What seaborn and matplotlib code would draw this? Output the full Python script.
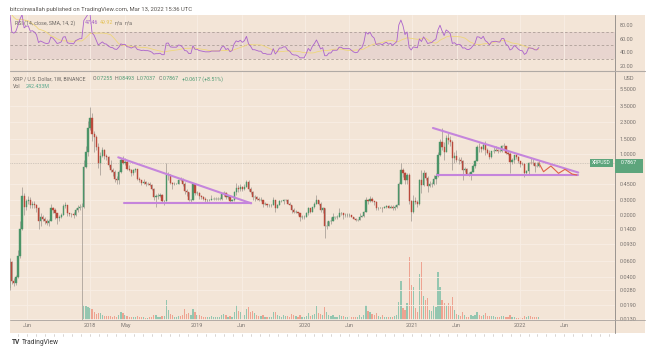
import numpy as np
import pandas as pd
import matplotlib
matplotlib.use("Agg")
import matplotlib.pyplot as plt
import matplotlib.dates as mdates
from matplotlib.lines import Line2D
from matplotlib.patches import Rectangle
from matplotlib.transforms import blended_transform_factory
from matplotlib.ticker import NullLocator
import seaborn as sns

# ---------------- data (weekly XRP/USD candles) ----------------
FIRST_WEEK = "2017-03-06"
FIRST_OPEN = 0.0068

CLOSE_2017 = [0.0072, 0.0078, 0.0095, 0.030, 0.058, 0.036, 0.034, 0.040,
              0.068, 0.140, 0.330, 0.250, 0.290, 0.300, 0.260, 0.270, 0.260,
              0.240, 0.170, 0.190, 0.180, 0.170, 0.165, 0.170, 0.240, 0.230,
              0.210, 0.185, 0.190, 0.200, 0.255, 0.260, 0.210, 0.205, 0.205,
              0.200, 0.230, 0.240, 0.250, 0.250, 0.720, 1.050, 2.000]
HIGH_2017 = [0.0076, 0.0086, 0.0112, 0.033, 0.066, 0.060, 0.039, 0.042,
             0.080, 0.170, 0.420, 0.360, 0.310, 0.330, 0.320, 0.290, 0.290,
             0.270, 0.250, 0.210, 0.200, 0.190, 0.180, 0.180, 0.270, 0.250,
             0.240, 0.215, 0.200, 0.215, 0.270, 0.280, 0.260, 0.215, 0.215,
             0.220, 0.240, 0.260, 0.270, 0.275, 0.850, 1.250, 2.400]
LOW_2017 = [0.0064, 0.0069, 0.0074, 0.0092, 0.028, 0.033, 0.031, 0.032,
            0.039, 0.066, 0.135, 0.200, 0.230, 0.270, 0.240, 0.240, 0.240,
            0.220, 0.140, 0.150, 0.170, 0.160, 0.155, 0.150, 0.170, 0.210,
            0.180, 0.160, 0.170, 0.185, 0.200, 0.240, 0.195, 0.195, 0.190,
            0.185, 0.195, 0.220, 0.230, 0.0125, 0.240, 0.700, 0.950]

CLOSE_2018 = [2.60, 1.70, 1.55, 1.20, 0.80, 0.95, 1.10, 0.95, 0.92,
              0.75, 0.66, 0.63, 0.52, 0.50, 0.63, 0.85, 0.80, 0.82,
              0.68, 0.66, 0.60, 0.65, 0.67, 0.52, 0.50, 0.47,
              0.48, 0.46, 0.46, 0.44, 0.40, 0.32, 0.33, 0.33, 0.34,
              0.29, 0.29, 0.57, 0.58, 0.47, 0.46, 0.46, 0.46, 0.51,
              0.50, 0.46, 0.38, 0.37, 0.30, 0.30, 0.45, 0.36, 0.36]
HIGH_2018 = [3.40, 2.90, 1.85, 1.65, 1.35, 1.05, 1.20, 1.15, 1.00,
             0.95, 0.85, 0.70, 0.66, 0.56, 0.65, 0.90, 0.96, 0.90,
             0.86, 0.74, 0.68, 0.68, 0.70, 0.68, 0.55, 0.51,
             0.52, 0.49, 0.48, 0.48, 0.45, 0.41, 0.35, 0.36, 0.36,
             0.35, 0.30, 0.78, 0.62, 0.59, 0.48, 0.48, 0.47, 0.52,
             0.55, 0.53, 0.48, 0.40, 0.37, 0.31, 0.46, 0.45, 0.38]
LOW_2018 = [1.90, 1.40, 1.05, 1.10, 0.70, 0.57, 0.92, 0.88, 0.85,
            0.72, 0.63, 0.56, 0.48, 0.45, 0.46, 0.61, 0.76, 0.74,
            0.65, 0.64, 0.56, 0.58, 0.63, 0.50, 0.48, 0.44,
            0.45, 0.43, 0.44, 0.43, 0.39, 0.30, 0.25, 0.31, 0.32,
            0.28, 0.26, 0.29, 0.50, 0.45, 0.40, 0.44, 0.45, 0.45,
            0.49, 0.43, 0.35, 0.33, 0.29, 0.28, 0.30, 0.34, 0.34]

CLOSE_2019 = [0.33, 0.32, 0.31, 0.30, 0.30, 0.30, 0.31, 0.31,
              0.31, 0.31, 0.31, 0.35, 0.36, 0.32, 0.33, 0.29, 0.30,
              0.37, 0.41, 0.40, 0.42, 0.40, 0.42, 0.48, 0.40,
              0.37, 0.32, 0.32, 0.31, 0.30, 0.30, 0.27, 0.27, 0.26,
              0.26, 0.26, 0.30, 0.24, 0.26, 0.29, 0.29, 0.30, 0.30,
              0.27, 0.26, 0.23, 0.22, 0.22, 0.21, 0.19, 0.19, 0.19]
HIGH_2019 = [0.37, 0.34, 0.33, 0.32, 0.31, 0.31, 0.34, 0.32,
             0.32, 0.32, 0.32, 0.36, 0.38, 0.37, 0.34, 0.33, 0.31,
             0.38, 0.47, 0.44, 0.45, 0.43, 0.45, 0.50, 0.50,
             0.42, 0.38, 0.34, 0.33, 0.32, 0.32, 0.30, 0.28, 0.27,
             0.27, 0.27, 0.32, 0.30, 0.27, 0.30, 0.30, 0.31, 0.31,
             0.31, 0.28, 0.26, 0.24, 0.23, 0.22, 0.21, 0.20, 0.20]
LOW_2019 = [0.31, 0.31, 0.30, 0.28, 0.28, 0.29, 0.30, 0.30,
            0.30, 0.30, 0.30, 0.30, 0.33, 0.31, 0.31, 0.28, 0.29,
            0.29, 0.34, 0.37, 0.38, 0.38, 0.39, 0.42, 0.38,
            0.35, 0.30, 0.29, 0.30, 0.29, 0.29, 0.25, 0.26, 0.25,
            0.25, 0.25, 0.26, 0.22, 0.24, 0.26, 0.28, 0.27, 0.29,
            0.27, 0.26, 0.21, 0.21, 0.21, 0.20, 0.17, 0.18, 0.18]

CLOSE_2020 = [0.21, 0.24, 0.22, 0.25, 0.27, 0.30, 0.27, 0.23,
              0.24, 0.15, 0.15, 0.17, 0.17, 0.19, 0.19, 0.19, 0.21,
              0.21, 0.20, 0.20, 0.20, 0.20, 0.19, 0.18, 0.175, 0.177,
              0.19, 0.195, 0.22, 0.30, 0.29, 0.31, 0.29, 0.28, 0.24,
              0.245, 0.245, 0.24, 0.25, 0.255, 0.245, 0.25, 0.24,
              0.25, 0.26, 0.46, 0.65, 0.60, 0.50, 0.57, 0.29, 0.22]
HIGH_2020 = [0.22, 0.25, 0.24, 0.25, 0.28, 0.34, 0.30, 0.28,
             0.25, 0.24, 0.17, 0.17, 0.19, 0.21, 0.19, 0.20, 0.24,
             0.22, 0.21, 0.21, 0.21, 0.21, 0.20, 0.19, 0.185, 0.18,
             0.21, 0.20, 0.225, 0.32, 0.31, 0.33, 0.32, 0.29, 0.29,
             0.25, 0.25, 0.25, 0.255, 0.26, 0.26, 0.26, 0.26,
             0.26, 0.27, 0.48, 0.78, 0.69, 0.62, 0.60, 0.60, 0.30]
LOW_2020 = [0.19, 0.20, 0.21, 0.22, 0.24, 0.27, 0.26, 0.22,
            0.21, 0.11, 0.14, 0.15, 0.16, 0.17, 0.18, 0.18, 0.19,
            0.20, 0.18, 0.19, 0.19, 0.19, 0.19, 0.18, 0.17, 0.17,
            0.175, 0.19, 0.19, 0.22, 0.27, 0.28, 0.28, 0.26, 0.23,
            0.23, 0.24, 0.22, 0.24, 0.24, 0.24, 0.24, 0.23,
            0.23, 0.24, 0.26, 0.45, 0.55, 0.46, 0.45, 0.27, 0.17]

CLOSE_2021 = [0.29, 0.28, 0.27, 0.50, 0.44, 0.60, 0.53, 0.43,
              0.45, 0.46, 0.52, 0.56, 0.98, 1.38, 1.21, 1.05, 1.52,
              1.46, 1.37, 0.90, 0.95, 0.85, 0.86, 0.83, 0.66, 0.67,
              0.59, 0.58, 0.63, 0.73, 0.84, 1.20, 1.19, 1.13, 1.27,
              1.10, 1.04, 0.92, 1.07, 1.09, 1.10, 1.08, 1.07,
              1.23, 1.23, 1.04, 0.99, 0.81, 0.85, 0.97, 0.92, 0.83]
HIGH_2021 = [0.34, 0.32, 0.30, 0.52, 0.65, 0.65, 0.63, 0.56,
             0.49, 0.48, 0.58, 0.60, 1.05, 1.50, 1.96, 1.38, 1.65,
             1.75, 1.62, 1.45, 1.06, 1.10, 0.92, 0.92, 0.85, 0.72,
             0.70, 0.63, 0.64, 0.77, 0.86, 1.27, 1.33, 1.25, 1.32,
             1.41, 1.18, 1.11, 1.08, 1.20, 1.23, 1.15, 1.15,
             1.26, 1.35, 1.25, 1.10, 1.05, 0.89, 0.98, 1.00, 0.96]
LOW_2021 = [0.21, 0.27, 0.25, 0.26, 0.36, 0.43, 0.50, 0.37,
            0.42, 0.42, 0.44, 0.45, 0.55, 0.96, 1.10, 0.86, 1.05,
            1.30, 1.25, 0.65, 0.80, 0.82, 0.76, 0.79, 0.51, 0.62,
            0.58, 0.56, 0.51, 0.62, 0.70, 0.83, 1.06, 1.05, 1.10,
            0.98, 1.00, 0.87, 0.89, 1.02, 1.07, 1.04, 1.05,
            1.05, 1.15, 1.00, 0.97, 0.60, 0.76, 0.78, 0.88, 0.80]

CLOSE_2022 = [0.77, 0.76, 0.60, 0.64, 0.80, 0.79, 0.78, 0.73, 0.7255, 0.7867]
HIGH_2022 = [0.84, 0.82, 0.78, 0.65, 0.81, 0.91, 0.88, 0.81, 0.81, 0.8493]
LOW_2022 = [0.72, 0.74, 0.55, 0.57, 0.59, 0.77, 0.74, 0.62, 0.71, 0.7037]

# weekly volume (millions)
VOL_2017 = [6, 6, 6, 6, 6, 6, 6, 6, 6, 6, 6, 6, 6, 6, 6, 6, 6, 6, 6, 6,
            6, 6, 6, 6, 6, 6, 6, 6, 6, 6, 6, 6, 6, 6, 6, 6, 6, 6, 6, 6,
            1200, 1120, 1040]
VOL_2018 = [960, 880, 640, 480, 560, 560, 400, 320, 320, 320, 320, 240, 320,
            240, 400, 640, 560, 400, 320, 240, 240, 240, 240, 320, 240, 240,
            240, 160, 160, 240, 240, 400, 400, 240, 240, 320, 320, 1600, 800,
            480, 400, 240, 240, 320, 320, 400, 880, 480, 560, 400, 880, 640, 400]
VOL_2019 = [400, 320, 240, 240, 240, 240, 320, 240, 240, 240, 240, 400,
            480, 400, 240, 320, 240, 640, 1200, 720, 640, 400, 400, 880, 1040,
            640, 720, 560, 400, 320, 320, 400, 240, 240, 240, 240, 640, 640, 400,
            320, 240, 400, 320, 320, 240, 480, 400, 320, 240, 400, 240, 240]
VOL_2020 = [320, 560, 320, 400, 480, 1120, 560, 480, 400, 1040, 640, 400, 320,
            400, 240, 240, 400, 320, 320, 240, 240, 320, 240, 240, 240, 240,
            400, 240, 400, 1200, 720, 640, 480, 400, 560, 320, 240, 400, 240,
            240, 240, 240, 240, 320, 400, 1440, 3120, 960, 800, 1360, 4960, 2800]
VOL_2021 = [2640, 960, 640, 3600, 4560, 1920, 1600, 1760, 800, 720, 1200, 1040, 3760,
            2640, 1600, 1360, 1200, 1360, 1120, 1840, 800, 480, 400, 320, 640, 400,
            240, 240, 400, 320, 400, 640, 400, 320, 400, 560, 320, 320, 320,
            320, 240, 240, 240, 320, 320, 240, 240, 400, 240, 240, 160, 160]
VOL_2022 = [240, 160, 320, 240, 320, 320, 240, 240, 240, 242.433]

PRICE_TICKS = [5.5, 3.5, 2.3, 1.5, 1.0, 0.45, 0.3, 0.2, 0.14, 0.093,
               0.06, 0.04, 0.028, 0.019, 0.013]
RSI_TICKS = [80, 60, 40, 20]
XTICK_DATES = ["2017-06-01", "2018-01-01", "2018-05-01", "2019-01-01", "2019-06-01",
               "2020-01-01", "2020-06-01", "2021-01-01", "2021-06-01", "2022-01-01",
               "2022-06-01"]
XTICK_LABELS = ["Jun", "2018", "May", "2019", "Jun", "2020", "Jun", "2021", "Jun",
                "2022", "Jun"]

# drawn trend lines (date, price)
TRI1_UP_D = ["2018-04-07", "2019-07-03"]; TRI1_UP_P = [0.917, 0.274]
TRI1_LO_D = ["2018-04-26", "2019-07-03"]; TRI1_LO_P = [0.278, 0.278]
TRI2_UP_D = ["2021-03-12", "2022-07-19"]; TRI2_UP_P = [1.98, 0.615]
TRI2_LO_D = ["2021-03-26", "2022-07-19"]; TRI2_LO_P = [0.572, 0.572]
WAVE_D = ["2022-03-07", "2022-03-23", "2022-04-17", "2022-05-13", "2022-06-04",
          "2022-06-28", "2022-07-14"]
WAVE_P = [0.79, 0.628, 0.73, 0.602, 0.669, 0.591, 0.576]

# ---------------- assemble ----------------
close = np.array(CLOSE_2017 + CLOSE_2018 + CLOSE_2019 + CLOSE_2020 + CLOSE_2021 + CLOSE_2022)
high = np.array(HIGH_2017 + HIGH_2018 + HIGH_2019 + HIGH_2020 + HIGH_2021 + HIGH_2022)
low = np.array(LOW_2017 + LOW_2018 + LOW_2019 + LOW_2020 + LOW_2021 + LOW_2022)
volume = np.array(VOL_2017 + VOL_2018 + VOL_2019 + VOL_2020 + VOL_2021 + VOL_2022, dtype=float)
open_ = np.concatenate([[FIRST_OPEN], close[:-1]])
dates = pd.date_range(FIRST_WEEK, periods=len(close), freq="7D")

# RSI(14) with SMA(14) signal, as named in the chart
s = pd.Series(close)
delta = s.diff()
ag = delta.clip(lower=0).ewm(alpha=1 / 14, adjust=False).mean()
al = (-delta).clip(lower=0).ewm(alpha=1 / 14, adjust=False).mean()
rsi = 100 - 100 / (1 + ag / al)
rsi = rsi.fillna(100)
rsi_ma = rsi.rolling(14, min_periods=1).mean()
rsi_df = pd.DataFrame({"date": dates, "rsi": rsi.values, "ma": rsi_ma.values})

# ---------------- styling ----------------
W, H = 664, 347
def fx(p): return p / W
def fy(p): return 1 - p / H

sns.set_theme(style="white")
plt.rcParams["font.family"] = ["Roboto", "DejaVu Sans"]

BG = "#f3e5d7"
GRID = "#f8eee5"
GREEN = "#4b9468"
RED = "#b9493b"
WICK = "#9d958e"
VUP = "#94c6b0"
VDN = "#eea391"
PURPLE = "#c585dc"
AXC = "#7a7470"
LINEC = "#9a948f"
FS = 4.0

fig = plt.figure(figsize=(W / 100, H / 100), dpi=100, facecolor="white")
fig.add_artist(Rectangle((fx(10), fy(333)), fx(645) - fx(10), fy(15) - fy(333),
                         transform=fig.transFigure, facecolor=BG, edgecolor="none", zorder=-5))

L, R = 10, 615
axr = fig.add_axes([fx(L), fy(70), fx(R) - fx(L), fy(15) - fy(70)])
axv = fig.add_axes([fx(L), fy(320), fx(R) - fx(L), fy(71) - fy(320)], sharex=axr)
ax = fig.add_axes([fx(L), fy(320), fx(R) - fx(L), fy(71) - fy(320)], sharex=axr)
for a in (axr, axv, ax):
    a.patch.set_visible(False)
    for sp in a.spines.values():
        sp.set_visible(False)
axr.set_zorder(1); axv.set_zorder(1); ax.set_zorder(2)

# ---- candles ----
up = close >= open_
ccol = np.where(up, GREEN, RED)
ax.set_yscale("log")
ax.vlines(dates, low, high, colors=WICK, linewidth=0.5, zorder=3)
ax.bar(dates, np.abs(close - open_), bottom=np.minimum(open_, close), width=4.2,
       color=ccol, edgecolor=ccol, linewidth=0.3, zorder=4)

# trend lines and projection
for d, p in ((TRI1_UP_D, TRI1_UP_P), (TRI1_LO_D, TRI1_LO_P),
             (TRI2_UP_D, TRI2_UP_P), (TRI2_LO_D, TRI2_LO_P)):
    ax.plot(pd.to_datetime(d), p, color=PURPLE, lw=1.5, solid_capstyle="round", zorder=5)
ax.plot(pd.to_datetime(WAVE_D), WAVE_P, color="#e0604a", lw=0.8, zorder=5)
ax.axhline(close[-1], color="#b3aca5", lw=0.5, ls=(0, (1, 1.5)), zorder=2)

ax.set_ylim(0.0128, 8.84)
ax.set_xlim(pd.Timestamp("2017-04-04"), pd.Timestamp("2022-11-21"))
ax.yaxis.tick_right()
ax.set_yticks(PRICE_TICKS)
ax.set_yticklabels([f"{v:.4f}" for v in PRICE_TICKS])
ax.yaxis.set_minor_locator(NullLocator())
ax.tick_params(axis="y", length=0, pad=3.5, labelsize=FS, labelcolor=AXC)
ax.set_xticks(pd.to_datetime(XTICK_DATES))
ax.set_xticklabels(XTICK_LABELS)
ax.tick_params(axis="x", length=0, pad=2.5, labelsize=FS, labelcolor=AXC)
ax.grid(True, color=GRID, lw=0.6)
ax.set_axisbelow(True)

# ---- volume ----
vcol = np.where(up, VUP, VDN)
axv.bar(dates, volume, width=4.2, color=vcol, linewidth=0, zorder=2)
axv.set_ylim(0, volume.max() / 0.252)
axv.set_yticks([])
axv.tick_params(labelbottom=False, bottom=False, left=False)
axv.grid(False)

# ---- RSI ----
axr.set_ylim(14.1, 94.6)
axr.axhspan(30, 70, color="#e8d5cf", lw=0, zorder=0)
for lvl in (70, 50, 30):
    axr.axhline(lvl, color="#ad9f98", lw=0.6, ls=(0, (3, 2.5)), zorder=1)
sns.lineplot(data=rsi_df, x="date", y="ma", ax=axr, color="#efd77a", linewidth=0.6, zorder=3)
sns.lineplot(data=rsi_df, x="date", y="rsi", ax=axr, color="#ab62cc", linewidth=0.6, zorder=4)
axr.set_xlabel(""); axr.set_ylabel("")
axr.yaxis.tick_right()
axr.set_yticks(RSI_TICKS)
axr.set_yticklabels([f"{v:.2f}" for v in RSI_TICKS])
axr.tick_params(axis="y", length=0, pad=3.5, labelsize=FS, labelcolor=AXC)
axr.tick_params(axis="x", labelbottom=False, length=0)
axr.grid(True, axis="x", color=GRID, lw=0.6)
axr.grid(False, axis="y")

# ---- frame lines ----
def fline(x0, y0, x1, y1, color=LINEC, lw=0.7):
    fig.add_artist(Line2D([fx(x0), fx(x1)], [fy(y0), fy(y1)], transform=fig.transFigure,
                          color=color, lw=lw, zorder=6))
fline(615, 15, 615, 333)
fline(10, 70.5, 645, 70.5, color="#b0aaa5", lw=0.8)
fline(10, 320, 645, 320, color="#a8a29d", lw=0.6)

trans = blended_transform_factory(ax.transData, fig.transFigure)
for m in pd.date_range("2017-05-01", "2022-11-01", freq="MS"):
    xv = mdates.date2num(m)
    fig.add_artist(Line2D([xv, xv], [fy(333.5), fy(336)], transform=trans,
                          color="#c9c4bf", lw=0.5))

# ---- texts ----
renderer = fig.canvas.get_renderer()

def t(x_px, y_px, s, col, size=FS, **kw):
    return fig.text(fx(x_px), fy(y_px), s, color=col, fontsize=size, ha="left",
                    va="center", zorder=12, **kw)

def width_px(txt_obj):
    return txt_obj.get_window_extent(renderer).width

TG = "#6d6864"
TGREEN = "#4f9b74"
HS = 3.8
t(10, 10, "bitcoinwallah published on TradingView.com, Mar 13, 2022 15:36 UTC", "#57534f", 4.2)

t(15, 23, "RSI (14, close, SMA, 14, 2)", TG, HS)
t(85, 23, "47.46", "#a35fc7", HS)
t(100, 23, "49.92", "#e4c257", HS)
t(115, 23, "n/a", TG, HS)
t(125, 23, "n/a", TG, HS)

t(13, 79, "XRP / U.S. Dollar, 1W, BINANCE", TG, HS)
for xp, letter, val in ((93, "O", "0.7255"), (115, "H", "0.8493"), (137, "L", "0.7037"),
                        (159, "C", "0.7867")):
    lt = t(xp, 79, letter, TG, HS)
    t(xp + width_px(lt) + 0.3, 79, val, TGREEN, HS)
t(181.5, 79, "+0.0617 (+8.51%)", TGREEN, HS)
t(13, 87, "Vol", TG, HS)
t(26, 87, "242.433M", "#5aa98f", HS)
t(624, 79, "USD", AXC, FS)

BOXG = "#5da57c"
fig.add_artist(Rectangle((fx(590), fy(167)), fx(613) - fx(590), fy(159) - fy(167),
                         transform=fig.transFigure, facecolor=BOXG, edgecolor="none", zorder=10))
fig.text(fx(601.5), fy(163), "XRPUSD", fontsize=3.6, color="white", ha="center", va="center", zorder=11)
fig.add_artist(Rectangle((fx(615), fy(173)), fx(643) - fx(615), fy(159) - fy(173),
                         transform=fig.transFigure, facecolor=BOXG, edgecolor="none", zorder=10))
fig.text(fx(629), fy(163), "0.7867", fontsize=3.8, color="white", ha="center", va="center", zorder=11)

t(12, 342, "TV", "#3a3a3a", 4.8, fontweight="bold")
t(22, 342, "TradingView", "#3a3a3a", 4.8)

fig.savefig("out.png", dpi=100, facecolor="white")
